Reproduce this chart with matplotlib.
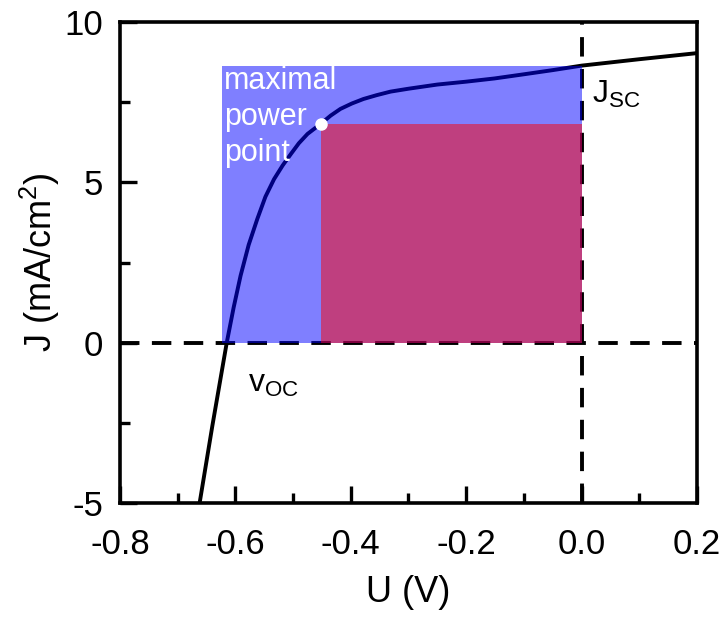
import matplotlib.pyplot as plt
from matplotlib.ticker import MultipleLocator
from matplotlib.patches import Rectangle

plt.rcParams['font.family'] = ['Liberation Sans', 'DejaVu Sans']

# J-U curve
U = [-0.662, -0.640, -0.615, -0.603, -0.591, -0.577, -0.562, -0.548, -0.533,
     -0.518, -0.504, -0.490, -0.475, -0.451, -0.435, -0.418, -0.398, -0.378,
     -0.355, -0.331, -0.30, -0.25, -0.20, -0.151, -0.10, -0.05, 0.0, 0.1, 0.2]
J = [-5.0, -2.6, 0.0, 1.10, 2.09, 3.05, 3.86, 4.55, 5.10,
     5.53, 5.88, 6.22, 6.51, 6.84, 7.08, 7.29, 7.46, 7.60,
     7.72, 7.83, 7.92, 8.05, 8.14, 8.24, 8.37, 8.50, 8.64, 8.84, 9.03]

Voc = -0.623
Jsc = 8.64
Ump = -0.452
Jmp = 6.82

fig = plt.figure(figsize=(7.26, 6.17), dpi=100)
ax = fig.add_axes([0.1653, 0.1848, 0.7947, 0.7795])

ax.axhline(0, color='k', lw=2.8, ls=(0, (5, 3.2)), zorder=1)
ax.axvline(0, color='k', lw=2.8, ls=(0, (5, 3.2)), zorder=1)
ax.plot(U, J, color='k', lw=2.8, zorder=2)

ax.add_patch(Rectangle((Voc, 0), 0 - Voc, Jsc, facecolor=(0, 0, 1, 0.5),
                       edgecolor='none', zorder=3))
ax.add_patch(Rectangle((Ump, 0), 0 - Ump, Jmp, facecolor=(1, 0, 0, 0.5),
                       edgecolor='none', zorder=4))
ax.plot([Ump], [Jmp], 'o', color='white', ms=8, zorder=5)

ax.text(-0.619, 8.62, 'maximal\npower\npoint', color='white', fontsize=22,
        va='top', ha='left', linespacing=1.25, zorder=6)
ax.text(0.018, 7.75, r'J$_{\mathregular{SC}}$', fontsize=23, va='center',
        ha='left', zorder=6)
ax.text(-0.578, -1.3, r'v$_{\mathregular{OC}}$', fontsize=23, va='center',
        ha='left', zorder=6)

ax.set_xlim(-0.8, 0.2)
ax.set_ylim(-5, 10)
ax.xaxis.set_minor_locator(MultipleLocator(0.1))
ax.yaxis.set_minor_locator(MultipleLocator(2.5))
ax.set_xticks([-0.8, -0.6, -0.4, -0.2, 0.0, 0.2])
ax.set_xticklabels(['-0.8', '-0.6', '-0.4', '-0.2', '0.0', '0.2'])
ax.set_yticks([-5, 0, 5, 10])
ax.set_yticklabels(['-5', '0', '5', '10'])

ax.tick_params(which='major', direction='in', length=12, width=2.4,
               labelsize=25)
ax.tick_params(axis='x', which='major', pad=18)
ax.tick_params(axis='y', which='major', pad=12)
ax.tick_params(which='minor', direction='in', length=7, width=2.4)
for s in ax.spines.values():
    s.set_linewidth(2.6)

ax.set_xlabel('U (V)', fontsize=26, labelpad=10)
ax.set_ylabel(r'J (mA/cm$^{\mathregular{2}}$)', fontsize=26, labelpad=2)

fig.savefig('out.png', dpi=100)
